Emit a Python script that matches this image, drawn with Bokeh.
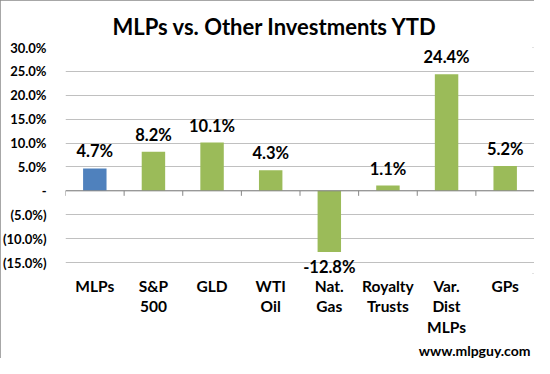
from bokeh.plotting import figure
from bokeh.models import ColumnDataSource, Range1d, FixedTicker, LinearAxis, Title, Span
from bokeh.core.properties import value
from bokeh.embed import file_html
from bokeh.resources import INLINE
import math

# ---- data ----
categories = ["MLPs", "S&P\n500", "GLD", "WTI\nOil", "Nat.\nGas", "Royalty\nTrusts", "Var.\nDist\nMLPs", "GPs"]
ytd_returns = [4.7, 8.2, 10.1, 4.3, -12.8, 1.1, 24.4, 5.2]
bar_colors = ["#4F81BD", "#9BBB59", "#9BBB59", "#9BBB59", "#9BBB59", "#9BBB59", "#9BBB59", "#9BBB59"]
y_ticks = [-15, -10, -5, 0, 5, 10, 15, 20, 25, 30]
y_tick_labels = ["(15.0%)", "(10.0%)", "(5.0%)", "-", "5.0%", "10.0%", "15.0%", "20.0%", "25.0%", "30.0%"]
title_text = "MLPs vs. Other Investments YTD"
watermark = "www.mlpguy.com"

FONT = "Lato"
n = len(categories)
xc = [i + 0.5 for i in range(n)]
boundaries = list(range(n + 1))
labels = [f"{v:.1f}%" for v in ytd_returns]

p = figure(width=534, height=358, output_backend="svg", toolbar_location=None,
           x_range=Range1d(0, n), y_range=Range1d(-17.3, 30),
           min_border_left=61, min_border_right=0, min_border_top=47, min_border_bottom=76,
           x_axis_location=None, y_axis_location="left")
p.outline_line_color = None
p.background_fill_color = "white"
p.border_fill_color = "white"
p.styles = {"outline": "2px solid #8A8A8A", "outline-offset": "-2px"}

# title
p.title.text = title_text
p.title.align = "left"
p.title.offset = 47
p.title.text_font = FONT
p.title.text_font_style = "bold"
p.title.text_font_size = "22px"
p.title.text_color = "#000000"
p.title.standoff = 15

# grid
p.xgrid.visible = False
p.ygrid.ticker = FixedTicker(ticks=y_ticks)
p.ygrid.grid_line_color = "#C0C0C0"
p.ygrid.grid_line_width = 1

# y axis
ya = p.yaxis[0]
ya.ticker = FixedTicker(ticks=y_ticks)
ya.major_label_overrides = {t: l for t, l in zip(y_ticks, y_tick_labels)}
ya.axis_line_color = None
ya.major_tick_line_color = None
ya.minor_tick_line_color = None
ya.major_label_text_font = FONT
ya.major_label_text_font_style = "bold"
ya.major_label_text_font_size = "13px"
ya.major_label_text_color = "#000000"
ya.major_label_standoff = 13

# bars
src = ColumnDataSource(dict(x=xc, top=ytd_returns, color=bar_colors))
p.vbar(x="x", top="top", bottom=0, width=0.4, color="color", source=src, line_color=None)

# zero line with tick marks at category boundaries (pointing down)
p.add_layout(Span(location=0, dimension="width", line_color="#878787", line_width=1))
p.ray(x=boundaries, y=[0] * len(boundaries), length=5, length_units="screen",
      angle=-math.pi / 2, line_color="#878787", line_width=1)

# category labels at bottom
cax = LinearAxis(ticker=FixedTicker(ticks=xc))
cax.major_label_overrides = {x: c for x, c in zip(xc, categories)}
cax.axis_line_color = None
cax.major_tick_line_color = None
cax.major_tick_out = 0
cax.major_tick_in = 0
cax.minor_tick_line_color = None
cax.major_label_text_font = FONT
cax.major_label_text_font_style = "bold"
cax.major_label_text_font_size = "15.5px"
cax.major_label_text_color = "#000000"
cax.major_label_text_line_height = 1.16
cax.major_label_standoff = 3
p.add_layout(cax, "below")

# watermark
wm = Title(text=watermark, align="right", offset=4, text_font=FONT, text_font_style="bold",
           text_font_size="14px", text_color="#000000", standoff=0)
p.add_layout(wm, "below")

# data labels
pos = [i for i, v in enumerate(ytd_returns) if v >= 0]
neg = [i for i, v in enumerate(ytd_returns) if v < 0]
psrc = ColumnDataSource(dict(x=[xc[i] for i in pos], y=[ytd_returns[i] for i in pos], t=[labels[i] for i in pos]))
nsrc = ColumnDataSource(dict(x=[xc[i] for i in neg], y=[ytd_returns[i] for i in neg], t=[labels[i] for i in neg]))
p.text(x="x", y="y", text="t", source=psrc, text_align="center", text_baseline="bottom",
       y_offset=-7, text_font=value(FONT), text_font_style="bold", text_font_size="16.5px", text_color="#000000")
p.text(x="x", y="y", text="t", source=nsrc, text_align="center", text_baseline="top",
       y_offset=5, text_font=value(FONT), text_font_style="bold", text_font_size="16.5px", text_color="#000000")

open("out.html", "w").write(file_html(p, INLINE))
